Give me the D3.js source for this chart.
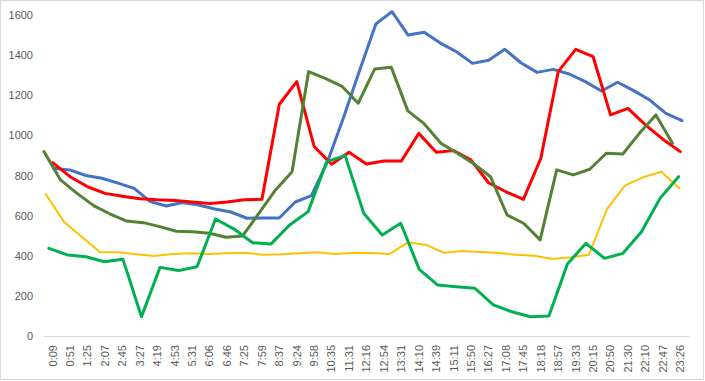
<!DOCTYPE html>
<html>
<head>
<meta charset="utf-8">
<script src="https://cdn.jsdelivr.net/npm/d3@7"></script>
<style>
  body { margin: 0; background: #fff; }
  text { font-family: "Liberation Sans", Arial, sans-serif; }
</style>
</head>
<body>
<script>
// category labels on the x axis
const timeLabels = ['0:09','0:51','1:25','2:07','2:45','3:27','4:19','4:53','5:31','6:06','6:46','7:25','7:59','8:37','9:24','9:58','10:35','11:31','12:16','12:54','13:31','14:10','14:39','15:11','15:50','16:27','17:08','17:45','18:18','18:57','19:33','20:15','20:50','21:30','22:10','22:47','23:26'];
const yTicks = [0, 200, 400, 600, 800, 1000, 1200, 1400, 1600];

// series values
const blueVals = [836,828,800,786,762,736,670,648,665,653,633,618,587,588,588,668,700,869,1090,1326,1555,1617,1500,1514,1460,1417,1359,1374,1429,1362,1314,1329,1306,1268,1221,1265,1223,1176,1110,1073];
const redVals = [864,794,744,711,697,684,679,676,668,661,668,679,681,1155,1268,944,856,916,857,872,872,1010,916,924,877,764,719,681,886,1318,1429,1392,1102,1135,1052,981,919];
const oliveVals = [919,778,711,650,608,573,565,545,522,520,512,492,498,612,728,819,1318,1284,1246,1160,1331,1339,1122,1057,961,911,857,794,603,562,479,828,803,831,911,907,1010,1102,961];
const yellowVals = [708,570,493,417,417,408,399,409,412,409,412,415,405,407,412,417,409,415,414,409,467,454,415,424,419,414,405,400,384,392,405,632,751,791,819,736];
const greenVals = [437,404,395,370,382,96,342,326,345,583,533,465,459,553,620,869,899,612,503,562,332,254,246,238,155,121,96,100,359,462,387,412,520,686,794];

// each series was sampled on its own time grid: first/last point in category units
const series = [
  { vals: blueVals,   from: 0.55, to: 36.6,  color: '#4472C4', width: 3 },
  { vals: redVals,    from: 0.5,  to: 36.5,  color: '#FF0000', width: 3 },
  { vals: oliveVals,  from: 0.0,  to: 36.05, color: '#548235', width: 3 },
  { vals: yellowVals, from: 0.1,  to: 36.45, color: '#FFC000', width: 2 },
  { vals: greenVals,  from: 0.28, to: 36.4,  color: '#00B050', width: 3 }
];

const W = 705, H = 381;
const plotL = 44, plotR = 689, plotT = 15, plotB = 336;

const svg = d3.select('body').append('svg')
  .attr('width', W)
  .attr('height', H);

svg.append('rect')
  .attr('x', 0.5).attr('y', 0.5)
  .attr('width', W - 2).attr('height', H - 2)
  .attr('fill', '#fff')
  .attr('stroke', '#D9D9D9');

const xBand = d3.scaleBand().domain(timeLabels).range([plotL, plotR]);
const x = d3.scaleLinear().domain([0, timeLabels.length]).range([plotL, plotR]);
const y = d3.scaleLinear().domain([0, 1600]).range([plotB, plotT]);

// y axis labels
const yAxis = svg.append('g')
  .attr('transform', `translate(${plotL},0)`)
  .call(d3.axisLeft(y).tickValues(yTicks).tickFormat(d3.format('d')).tickSize(0).tickPadding(11));
yAxis.select('.domain').remove();
yAxis.selectAll('text').attr('fill', '#595959').style('font-size', '11px');

// x axis labels, rotated
const xAxis = svg.append('g')
  .attr('transform', `translate(0,${plotB})`)
  .call(d3.axisBottom(xBand).tickSize(0));
xAxis.select('.domain').remove();
xAxis.selectAll('text')
  .attr('fill', '#595959')
  .style('font-size', '11px')
  .attr('transform', 'rotate(-90)')
  .attr('text-anchor', 'end')
  .attr('x', -9)
  .attr('y', 0)
  .attr('dy', '0.35em');

// baseline
svg.append('line')
  .attr('x1', plotL).attr('x2', plotR)
  .attr('y1', plotB + 0.5).attr('y2', plotB + 0.5)
  .attr('stroke', '#D9D9D9');

const line = d3.line()
  .x(d => x(d.t))
  .y(d => y(d.v));

series.forEach(s => {
  const n = s.vals.length;
  const pts = s.vals.map((v, i) => ({ t: s.from + i * (s.to - s.from) / (n - 1), v: v }));
  svg.append('path')
    .datum(pts)
    .attr('d', line)
    .attr('fill', 'none')
    .attr('stroke', s.color)
    .attr('stroke-width', s.width)
    .attr('stroke-linejoin', 'round')
    .attr('stroke-linecap', 'round');
});
</script>
</body>
</html>
